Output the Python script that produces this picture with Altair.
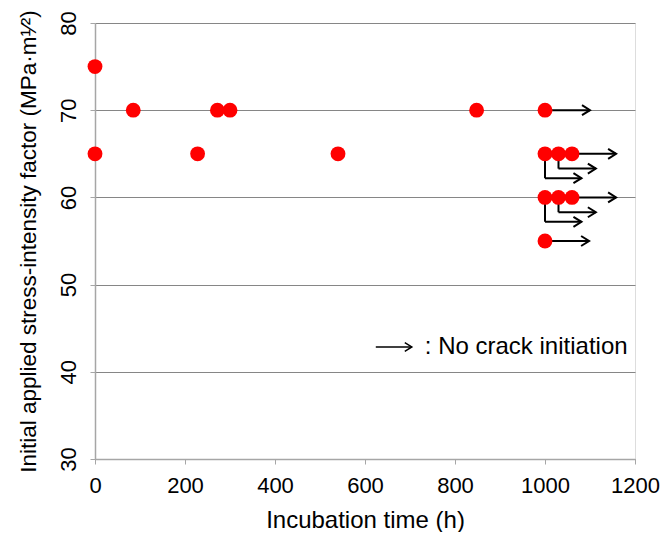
import altair as alt
import pandas as pd

# Data points (incubation time h, stress-intensity factor)
dot_x = [0, 0, 85, 228, 272, 300, 540, 848, 1000, 1000, 1030, 1060, 1000, 1030, 1060, 1000]
dot_y = [75, 65, 70, 65, 70, 70, 65, 70, 70, 65, 65, 65, 60, 60, 60, 55]

# "No crack initiation" arrows: start x, end x, level y
arr_x1 = [1000, 1060, 1030, 1000, 1060, 1030, 1000, 1000]
arr_x2 = [1100, 1158, 1113, 1081, 1158, 1113, 1081, 1098]
arr_y = [70, 65, 63.3, 62.2, 60, 58.3, 57.2, 55]

# elbow verticals: x, from y, to y
elb_x = [1030, 1000, 1030, 1000]
elb_y1 = [65, 65, 60, 60]
elb_y2 = [63.3, 62.2, 58.3, 57.2]

# legend annotation
leg_x1 = [624]
leg_x2 = [704]
leg_y = [42.85]
leg_tx = [733]
leg_text = [": No crack initiation"]

# axis tick values
x_ticks = [0, 200, 400, 600, 800, 1000, 1200]
y_ticks = [30, 40, 50, 60, 70, 80]

FONT = "Liberation Sans"

dots = pd.DataFrame({"x": dot_x, "y": dot_y})
arrows = pd.DataFrame({"x": arr_x1, "x2": arr_x2, "y": arr_y})
elbows = pd.DataFrame({"x": elb_x, "y": elb_y1, "y2": elb_y2})
leg = pd.DataFrame({"x": leg_x1, "x2": leg_x2, "y": leg_y, "tx": leg_tx, "t": leg_text})

xs = alt.Scale(domain=[0, 1200], nice=False)
ys = alt.Scale(domain=[30, 80], nice=False)

xax = alt.Axis(values=x_ticks, grid=False, format="d", labelFlush=False,
               title="Incubation time (h)", labelFontSize=22, titleFontSize=24,
               labelFont=FONT, titleFont=FONT, labelColor="black", titleColor="black",
               domainColor="#a6a6a6", domainWidth=1.5, tickColor="#a6a6a6", tickSize=5,
               labelPadding=11, titlePadding=12, titleFontWeight="normal")
yax = alt.Axis(values=y_ticks, grid=True, gridColor="#868686", gridWidth=1.2,
               format="d", labelFlush=False,
               title="Initial applied stress-intensity factor (MPa·m¹⁄²)",
               labelFontSize=22, titleFontSize=22.5, labelFont=FONT, titleFont=FONT,
               labelColor="black", titleColor="black", labelAngle=270,
               labelAlign="center", labelBaseline="alphabetic", labelPadding=15,
               domainColor="#a6a6a6", domainWidth=1.5, tickColor="#a6a6a6", tickSize=5,
               titlePadding=17, titleFontWeight="normal")

base_x = alt.X("x:Q", scale=xs, axis=xax)
base_y = alt.Y("y:Q", scale=ys, axis=yax)

hrules = alt.Chart(arrows).mark_rule(color="black", strokeWidth=2).encode(
    x=base_x, x2="x2:Q", y=base_y)
vrules = alt.Chart(elbows).mark_rule(color="black", strokeWidth=2).encode(
    x=base_x, y=base_y, y2="y2:Q")
heads = alt.Chart(arrows).mark_point(
    shape="M-1,-0.625L0,0L-1,0.625", filled=False, stroke="black", strokeWidth=2, size=256,
    opacity=1).encode(x=alt.X("x2:Q", scale=xs, axis=xax), y=base_y)
pts = alt.Chart(dots).mark_circle(color="#ff0000", size=220, opacity=1).encode(x=base_x, y=base_y)

leg_rule = alt.Chart(leg).mark_rule(color="black", strokeWidth=1.5).encode(
    x=base_x, x2="x2:Q", y=base_y)
leg_head = alt.Chart(leg).mark_point(
    shape="M-1,-0.625L0,0L-1,0.625", filled=False, stroke="black", strokeWidth=1.5, size=196,
    opacity=1).encode(x=alt.X("x2:Q", scale=xs, axis=xax), y=base_y)
leg_txt = alt.Chart(leg).mark_text(align="left", baseline="middle", font=FONT, fontSize=24,
                                   color="black").encode(
    x=alt.X("tx:Q", scale=xs, axis=xax), y=base_y, text="t:N")

chart = alt.layer(hrules, vrules, heads, pts, leg_rule, leg_head, leg_txt).properties(
    width=540, height=436,
    autosize=alt.AutoSizeParams(type="none"),
    padding={"left": 87, "top": 15, "right": 25, "bottom": 73},
).configure_view(stroke=None).configure(background="white")

chart.save("out.html", embed_options={"renderer": "svg", "actions": False})
